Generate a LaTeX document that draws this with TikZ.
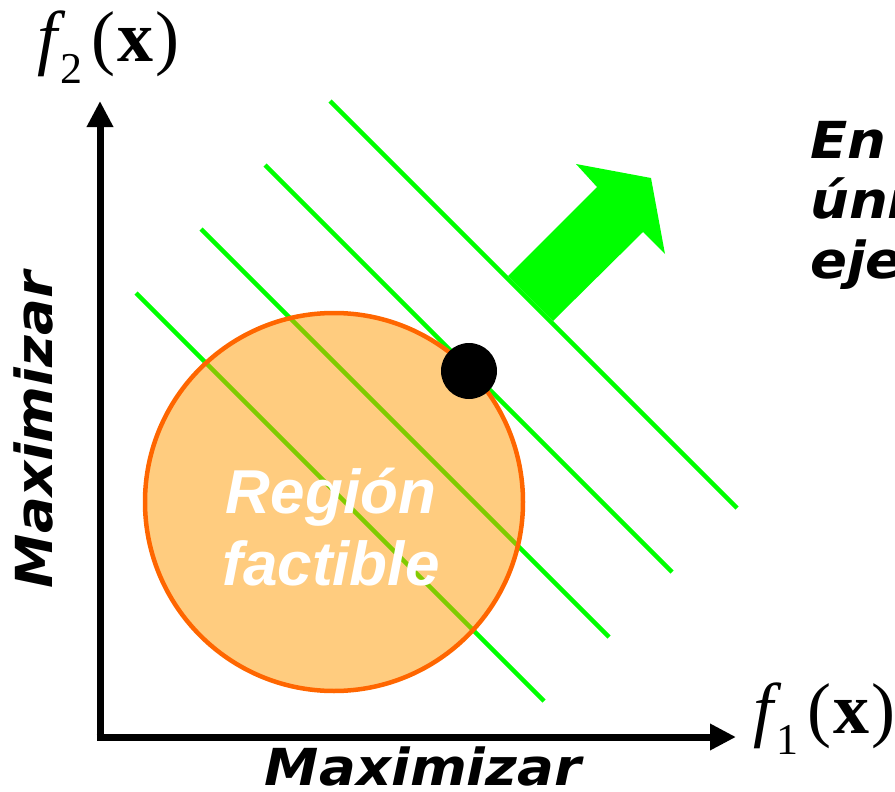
\documentclass[tikz,border=0pt]{standalone}
\usepackage{fontspec}
\newfontfamily\dvs{DejaVu Sans}
\newfontfamily\lsans{Liberation Sans}
\newfontfamily\lserif{Liberation Serif}
\usetikzlibrary{arrows.meta}
\definecolor{lgreen}{HTML}{00FF00}
\definecolor{corange}{HTML}{FF6600}
\definecolor{cfill}{HTML}{FF9900}
\newcommand{\wide}[1]{\scalebox{1.07}[1]{#1}}
\newcommand{\fx}[1]{{\itshape f}\kern3pt\raisebox{-0.3em}{\fontsize{44}{44}\selectfont #1}\kern9pt(\kern2pt\textbf{x}\kern2pt)}
\tikzset{
  axis/.style={line width=7pt, -{Triangle[length=26pt,width=25pt]}},
  objline/.style={lgreen, line width=4.5pt},
  boldlabel/.style={font=\dvs\bfseries\itshape\fontsize{51}{60}\selectfont, inner sep=0pt},
  mathlabel/.style={font=\lserif\fontsize{72}{72}\selectfont, inner sep=0pt, anchor=base west},
}
\begin{document}
\begin{tikzpicture}[x=1pt,y=-1pt]
\clip (0,0) rectangle (895,792);
\useasboundingbox (0,0) rectangle (895,792);
% axes
\coordinate (O) at (100,737);
\coordinate (Ytip) at (100,101);
\coordinate (Xtip) at (736,737);
\draw[axis] ([yshift=-3.5pt]O) -- (Ytip);
\draw[axis] ([xshift=-3.5pt]O) -- (Xtip);
% objective lines
\coordinate (a1) at (136,293); \coordinate (b1) at (544,701);
\coordinate (a2) at (201,229); \coordinate (b2) at (609,637);
\coordinate (a3) at (265,165); \coordinate (b3) at (672,572);
\coordinate (a4) at (330,101); \coordinate (b4) at (737,508);
\draw[objline] (a1) -- (b1);
\draw[objline] (a2) -- (b2);
\draw[objline] (a3) -- (b3);
\draw[objline] (a4) -- (b4);
% feasible region
\node[circle, minimum size=378pt, inner sep=0pt, fill=cfill, fill opacity=0.5] (reg) at (334,502) {};
\draw[corange, line width=4.5pt] (reg.center) circle[radius=189pt];
% optimum
\node[circle, fill=black, minimum size=56pt, inner sep=0pt] (opt) at (469,371) {};
% direction arrow
\fill[lgreen] (508,276) -- (597,187) -- (576,164) -- (651,178) -- (665,254) -- (643,232) -- (553,321) -- cycle;
% texts
\node[font=\lsans\bfseries\itshape\fontsize{62}{72}\selectfont, text=white, align=center, inner sep=0pt] (regtxt) at (331,527) {Región\\factible};
\node[boldlabel, anchor=base] (mx) at (423,785) {\wide{Maximizar}};
\node[boldlabel, anchor=base, rotate=90] (my) at (52,430) {\wide{Maximizar}};
\node[boldlabel, anchor=base west] (en) at (810,158) {\wide{En}};
\node[boldlabel, anchor=base west] (uni) at (810,218) {\wide{úni}};
\node[boldlabel, anchor=base west] (eje) at (810,278) {\wide{eje}};
\node[mathlabel] (f2) at (37,62) {\fx{2}};
\node[mathlabel] (f1) at (753,733) {\fx{1}};
\end{tikzpicture}
\end{document}
